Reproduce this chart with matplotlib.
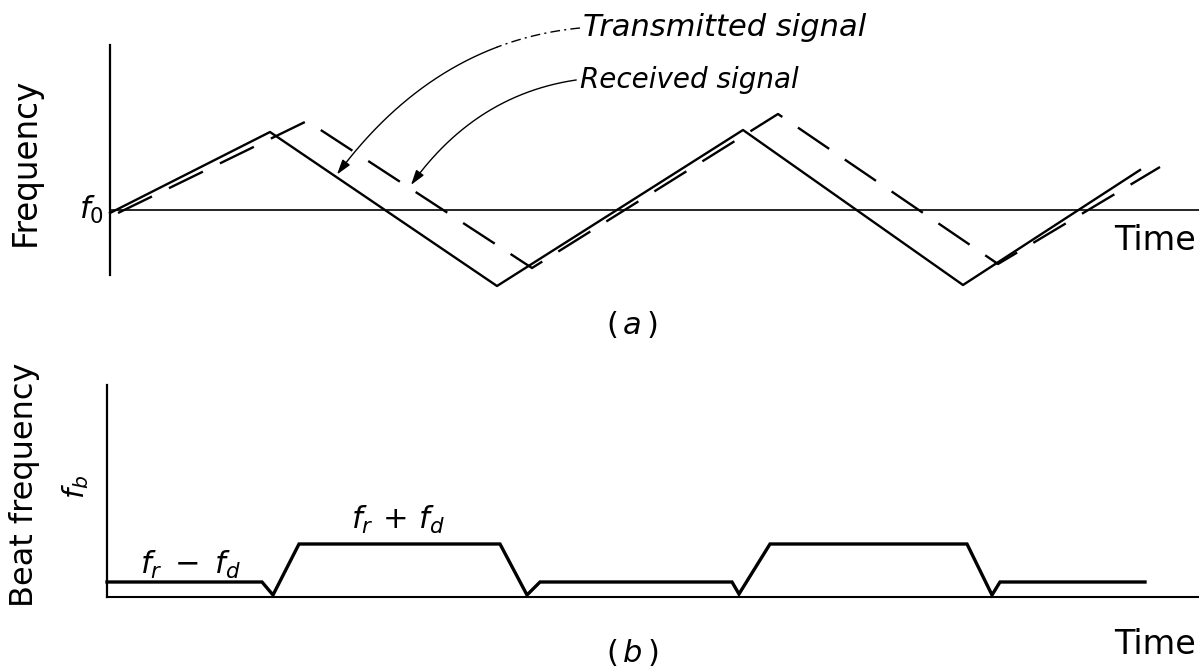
import numpy as np
import matplotlib
matplotlib.use("Agg")
import matplotlib.pyplot as plt

# (a) corner points of the frequency sweeps, time vs offset from f0
tx_time = [0.00, 1.60, 3.87, 6.33, 8.53, 10.30]
tx_freq = [-0.03, 0.78, -0.76, 0.80, -0.75, 0.40]
rx_time = [0.08, 1.97, 4.22, 6.68, 8.88, 10.50]
rx_freq = [-0.03, 0.89, -0.58, 0.96, -0.54, 0.43]

# (b) beat frequency
beat_time = [-0.03, 1.52, 1.63, 1.89, 3.90, 4.17, 4.30, 6.22, 6.29, 6.60, 8.57, 8.82, 8.90, 10.35]
beat_freq = [0.15, 0.15, 0.02, 0.53, 0.53, 0.02, 0.15, 0.15, 0.03, 0.53, 0.53, 0.02, 0.15, 0.15]

W, H = 1199, 667

def fx(x):
    return x / W

def fy(y):
    return 1 - y / H

fig = plt.figure(figsize=(W / 100, H / 100), dpi=100)

ax1 = fig.add_axes([0, fy(340), 1, 340 / H])
ax1.set_xlim(-1.10, 10.89)
ax1.set_ylim(-1.30, 2.10)

ax2 = fig.add_axes([0, 0, 1, 327 / H])
ax2.set_xlim(-1.10, 10.89)
ax2.set_ylim(-0.70, 2.57)

for ax in (ax1, ax2):
    ax.set_facecolor("none")
    ax.set_xticks([])
    ax.set_yticks([])
    ax.spines["top"].set_visible(False)
    ax.spines["right"].set_visible(False)

ax1.spines["left"].set_position(("data", 0))
ax1.spines["left"].set_bounds(-0.65, 1.65)
ax1.spines["left"].set_linewidth(1.6)
ax1.spines["bottom"].set_position(("data", 0))
ax1.spines["bottom"].set_bounds(0, 10.89)
ax1.spines["bottom"].set_linewidth(1.2)

ax2.spines["left"].set_position(("data", -0.03))
ax2.spines["left"].set_bounds(0, 2.12)
ax2.spines["left"].set_linewidth(1.6)
ax2.spines["bottom"].set_position(("data", 0))
ax2.spines["bottom"].set_bounds(-0.03, 10.89)
ax2.spines["bottom"].set_linewidth(1.5)

ax1.plot(tx_time, tx_freq, color="black", lw=1.7, clip_on=False)
ax1.plot(rx_time, rx_freq, color="black", lw=1.7, linestyle=(0, (16, 8)), clip_on=False)
ax2.plot(beat_time, beat_freq, color="black", lw=2.4, solid_joinstyle="miter", clip_on=False)


def pointer(ax, start, ctrl, tip, dashdot=0.0):
    s = np.linspace(0, 1, 200)[:, None]
    p0, p1, p2 = np.array(start), np.array(ctrl), np.array(tip)
    pts = (1 - s) ** 2 * p0 + 2 * (1 - s) * s * p1 + s ** 2 * p2
    k = int(dashdot * len(pts))
    if k > 1:
        ax.plot(pts[:k + 1, 0], pts[:k + 1, 1], color="black", lw=1.0,
                linestyle=(0, (7, 3, 1.5, 3)), clip_on=False)
    ax.plot(pts[k:-6, 0], pts[k:-6, 1], color="black", lw=1.0, clip_on=False)
    ax.annotate("", xy=tip, xytext=pts[-8],
                arrowprops=dict(arrowstyle="-|>,head_length=0.9,head_width=0.28",
                                color="black", lw=1.0, shrinkA=0, shrinkB=0))


tip_tx = (2.27, float(np.interp(2.27, tx_time[1:3], tx_freq[1:3])) + 0.03)
tip_rx = (3.01, float(np.interp(3.01, rx_time[1:3], rx_freq[1:3])) + 0.04)
pointer(ax1, (4.70, 1.82), (3.25, 1.68), tip_tx, dashdot=0.3)
pointer(ax1, (4.66, 1.30), (3.65, 1.15), tip_rx)

txt = dict(color="black", ha="center", va="center")
fig.text(fx(583), fy(27), "Transmitted signal", style="italic", fontsize=22,
         color="black", ha="left", va="center")
fig.text(fx(580), fy(80), "Received signal", style="italic", fontsize=20,
         color="black", ha="left", va="center")
fig.text(fx(25), fy(162), "Frequency", rotation=90, fontsize=23.5, **txt)
fig.text(fx(25), fy(485), "Beat frequency", rotation=90, fontsize=23, **txt)
fig.text(fx(76), fy(487), r"$f_b$", rotation=90, fontsize=21, **txt)
fig.text(fx(104), fy(210), r"$f_0$", fontsize=22, color="black", ha="right", va="center")
fig.text(fx(1196), fy(240), "Time", fontsize=24, color="black", ha="right", va="center")
fig.text(fx(1196), fy(644), "Time", fontsize=24, color="black", ha="right", va="center")
fig.text(fx(632), fy(325), r"$(\,a\,)$", fontsize=22, **txt)
fig.text(fx(632), fy(652), r"$(\,b\,)$", fontsize=22, **txt)
fig.text(fx(190), fy(565), r"$f_r\;-\;f_d$", fontsize=22, **txt)
fig.text(fx(398), fy(520), r"$f_r\,+\,f_d$", fontsize=22, **txt)

fig.savefig("out.png", dpi=100, facecolor="white")
